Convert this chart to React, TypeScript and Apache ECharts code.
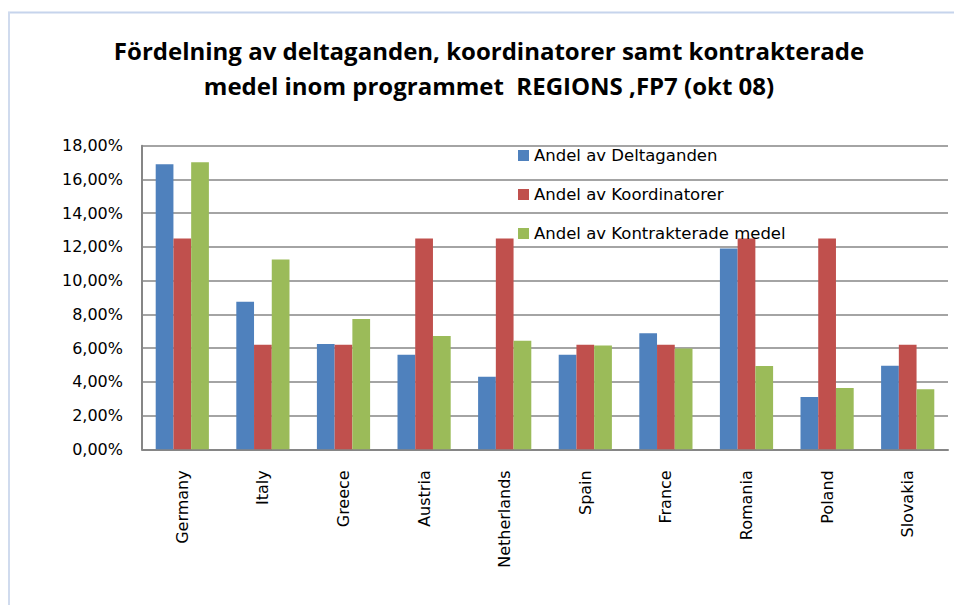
import React, { useEffect, useRef } from "react";
import * as echarts from "echarts";

const categories = ["Germany", "Italy", "Greece", "Austria", "Netherlands", "Spain", "France", "Romania", "Poland", "Slovakia"];
const seriesNames = ["Andel av Deltaganden", "Andel av Koordinatorer", "Andel av Kontrakterade medel"];
const deltaganden = [16.9, 8.75, 6.25, 5.6, 4.3, 5.6, 6.88, 11.9, 3.1, 4.95];
const koordinatorer = [12.5, 6.2, 6.2, 12.5, 12.5, 6.2, 6.2, 12.5, 12.5, 6.2];
const kontrakterade = [17.02, 11.26, 7.72, 6.72, 6.43, 6.15, 5.98, 4.94, 3.64, 3.56];
const colors = ["#4f81bd", "#c0504d", "#9bbb59"];
const titleText = "Fördelning av deltaganden, koordinatorer samt kontrakterade\nmedel inom programmet  REGIONS ,FP7 (okt 08)";

export default function App() {
  const ref = useRef<HTMLDivElement>(null);
  useEffect(() => {
    if (!ref.current) return;
    const chart = echarts.init(ref.current, null, { renderer: "svg" });
    const labelFont = "DejaVu Sans";
    chart.setOption({
      animation: false,
      backgroundColor: "#ffffff",
      title: {
        text: titleText,
        left: 489,
        top: 33,
        padding: 0,
        textAlign: "center",
        textStyle: {
          fontFamily: "Liberation Sans Narrow, Open Sans, sans-serif",
          fontWeight: "bold",
          fontSize: 24,
          lineHeight: 35,
          color: "#000000",
        },
      },
      graphic: [
        {
          type: "line",
          shape: { x1: 8, y1: 12.5, x2: 954, y2: 12.5 },
          style: { stroke: "#c6d4ec", lineWidth: 2 },
          silent: true,
        },
        {
          type: "line",
          shape: { x1: 9, y1: 12, x2: 9, y2: 605 },
          style: { stroke: "#d0dbee", lineWidth: 2 },
          silent: true,
        },
      ],
      legend: {
        orient: "vertical",
        left: 518,
        top: 147,
        padding: 0,
        itemGap: 22,
        itemWidth: 11,
        itemHeight: 11,
        icon: "rect",
        data: seriesNames,
        textStyle: { fontFamily: labelFont, fontSize: 16.5, lineHeight: 16, color: "#000000" },
      },
      grid: { left: 142, right: 6, top: 145.7, bottom: 155.7, containLabel: false },
      xAxis: {
        type: "category",
        data: categories,
        axisLine: { lineStyle: { color: "#868686", width: 2 } },
        axisTick: { show: false },
        axisLabel: {
          rotate: 90,
          margin: 21,
          interval: 0,
          fontFamily: labelFont,
          fontSize: 16,
          color: "#000000",
        },
      },
      yAxis: {
        type: "value",
        min: 0,
        max: 18,
        interval: 2,
        axisLine: { show: true, lineStyle: { color: "#868686", width: 2 } },
        axisTick: { show: false },
        splitLine: { lineStyle: { color: "#868686", width: 1.5 } },
        axisLabel: {
          margin: 19,
          fontFamily: labelFont,
          fontSize: 16,
          color: "#000000",
          formatter: (v: number) => v.toFixed(2).replace(".", ",") + "%",
        },
      },
      series: [
        { name: seriesNames[0], type: "bar", data: deltaganden, itemStyle: { color: colors[0] }, barGap: "0%", barCategoryGap: "34%" },
        { name: seriesNames[1], type: "bar", data: koordinatorer, itemStyle: { color: colors[1] }, barGap: "0%", barCategoryGap: "34%" },
        { name: seriesNames[2], type: "bar", data: kontrakterade, itemStyle: { color: colors[2] }, barGap: "0%", barCategoryGap: "34%" },
      ],
    });
    return () => chart.dispose();
  }, []);
  return <div ref={ref} style={{ position: "fixed", left: 0, top: 0, width: 954, height: 605 }} />;
}
